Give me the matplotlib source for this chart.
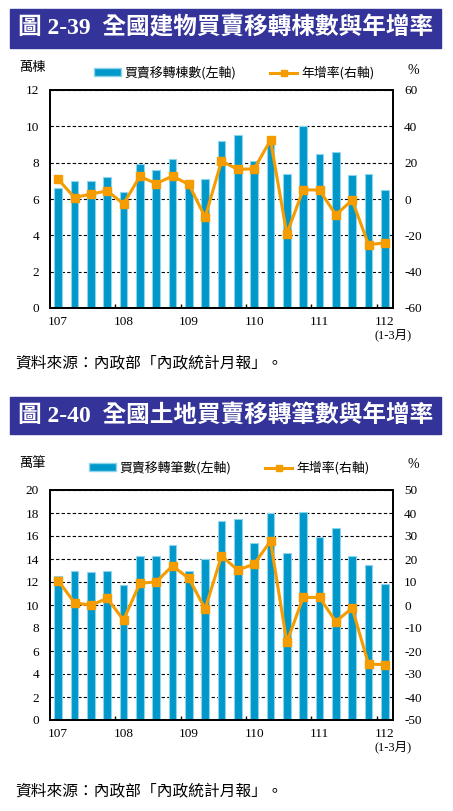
import numpy as np
import matplotlib
matplotlib.use("Agg")
import matplotlib.pyplot as plt
from matplotlib.patches import Rectangle, Patch
from matplotlib.lines import Line2D

plt.rcParams['axes.unicode_minus'] = False

# Données trimestrielles 107Q1 -> 112Q1
year_labels = ['107', '108', '109', '110', '111', '112']
year_pos = [0, 4, 8, 12, 16, 20]
last_note = '(1-3月)'

bldg_counts = [6.6, 7.0, 7.0, 7.2, 6.4, 7.9, 7.6, 8.2, 6.8, 7.1, 9.2,
               9.5, 8.1, 9.3, 7.4, 10.0, 8.5, 8.6, 7.3, 7.4, 6.5]
bldg_growth = [10.8, 0.8, 2.7, 4.5, -2.7, 12.4, 8.5, 12.6, 8.0, -10.0, 20.9,
               16.3, 16.6, 32.4, -19.2, 5.1, 4.9, -8.7, -0.6, -25.1, -24.2]

land_counts = [12.5, 13.0, 12.9, 13.0, 11.7, 14.3, 14.3, 15.2, 13.0, 14.0, 17.3,
               17.5, 15.4, 18.0, 14.5, 18.1, 15.9, 16.7, 14.3, 13.5, 11.8]
land_growth = [10.6, 1.0, -0.1, 2.9, -6.5, 9.4, 10.1, 17.0, 11.6, -1.7, 21.3,
               15.2, 17.8, 27.8, -16.2, 3.3, 3.3, -7.2, -1.3, -25.7, -25.9]

BLUE = '#0098CA'
EDGE = '#8ED4EC'
ORANGE = '#F59C00'
NAVY = '#333399'
CJK = ['Noto Sans CJK TC', 'DejaVu Sans']
SERIF = ['Liberation Serif', 'Noto Sans CJK TC']

W, H = 453, 811
fig = plt.figure(figsize=(W / 100, H / 100), dpi=100)


def px_x(x):
    return x / W


def px_y(y):
    return 1 - y / H


def draw_title(text, y_top, y_bot):
    fig.patches.append(Rectangle((px_x(10), px_y(y_bot)), px_x(431), (y_bot - y_top) / H,
                                 transform=fig.transFigure, color=NAVY, zorder=0))
    fig.text(px_x(18), px_y((y_top + y_bot) / 2), text, color='white', fontsize=17,
             fontweight='bold', family=SERIF, va='center', ha='left')


def draw_panel(rect, counts, growth, left_lim, left_step, right_lim, right_step,
               bar_label, unit, legend_y, leg_x):
    ax = fig.add_axes(rect)
    x = np.arange(len(counts))
    ax.bar(x, counts, width=0.46, color=BLUE, edgecolor=EDGE, linewidth=0.8, zorder=2)
    ax.set_xlim(-0.5, len(counts) - 0.5)
    ax.set_ylim(0, left_lim)
    ax.set_yticks(np.arange(0, left_lim + 0.1, left_step))
    ax.set_axisbelow(True)
    ax.yaxis.grid(True, linestyle=(0, (3, 2)), color='black', linewidth=0.8)
    ax.tick_params(axis='y', length=0, pad=8, labelsize=9.5)
    ax.set_xticks(year_pos)
    ax.set_xticklabels(year_labels, family=SERIF, fontsize=9.5)
    ax.tick_params(axis='x', length=0, pad=6)
    ax.set_xticks(np.arange(3.5, len(counts), 4), minor=True)
    ax.tick_params(axis='x', which='minor', direction='in', length=3, width=1)
    for lab in ax.get_yticklabels():
        lab.set_family(SERIF)
    for s in ax.spines.values():
        s.set_color('black')
        s.set_linewidth(1.3)
    # note sous le dernier trimestre
    ax.annotate(last_note, xy=(year_pos[-1], 0), xycoords='data',
                xytext=(6, -19.5), textcoords='offset points', ha='center', va='center',
                family=SERIF, fontsize=9)

    ax2 = ax.twinx()
    ax2.plot(x, growth, color=ORANGE, linewidth=2.2, marker='s', markersize=6,
             markerfacecolor=ORANGE, markeredgecolor=ORANGE, zorder=3)
    ax2.set_ylim(-right_lim, right_lim)
    ax2.set_yticks(np.arange(-right_lim, right_lim + 0.1, right_step))
    ax2.tick_params(axis='y', length=0, pad=8, labelsize=9.5)
    for lab in ax2.get_yticklabels():
        lab.set_family(SERIF)
    for s in ax2.spines.values():
        s.set_linewidth(1.3)

    handles = [Patch(facecolor=BLUE, edgecolor=EDGE),
               Line2D([], [], color=ORANGE, linewidth=2.2, marker='s', markersize=5)]
    ax.legend(handles, [bar_label, '年增率(右軸)'], loc='center',
              bbox_to_anchor=(leg_x, px_y(legend_y)), bbox_transform=fig.transFigure,
              ncol=2, frameon=False, prop={'family': CJK, 'size': 9.3},
              handlelength=2.1, handleheight=0.6, handletextpad=0.3, columnspacing=2.6)
    fig.text(px_x(19), px_y(legend_y - 5), unit, family=CJK, fontsize=9.5, va='center')
    fig.text(px_x(413), px_y(legend_y - 3), '%', family=SERIF, fontsize=10,
             va='center', ha='center')


# Graphique 2-39
draw_title('圖 2-39  全國建物買賣移轉棟數與年增率', 9, 48)
draw_panel([px_x(50), px_y(308), (393 - 50) / W, (308 - 90) / H],
           bldg_counts, bldg_growth, 12, 2, 60, 20,
           '買賣移轉棟數(左軸)', '萬棟', 73, px_x(234))
fig.text(px_x(15), px_y(364), '資料來源：內政部「內政統計月報」。', family=CJK,
         fontsize=11.3, va='center')

# Graphique 2-40
draw_title('圖 2-40  全國土地買賣移轉筆數與年增率', 397, 434)
draw_panel([px_x(50), px_y(720), (393 - 50) / W, (720 - 490) / H],
           land_counts, land_growth, 20, 2, 50, 10,
           '買賣移轉筆數(左軸)', '萬筆', 468, px_x(229))
fig.text(px_x(15), px_y(792), '資料來源：內政部「內政統計月報」。', family=CJK,
         fontsize=11.3, va='center')

fig.savefig('out.png', dpi=100)
